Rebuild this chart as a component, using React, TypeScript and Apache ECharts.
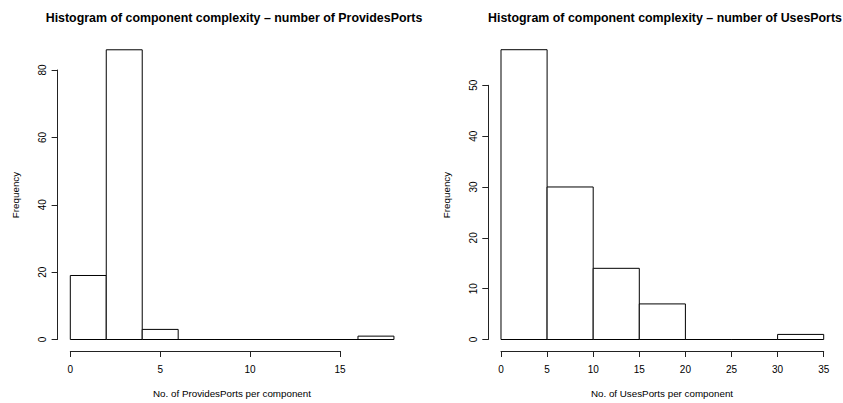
import React, { useEffect, useRef } from "react";
import * as echarts from "echarts";

const providesBreaks = [0, 2, 4, 6, 8, 10, 12, 14, 16, 18];
const providesCounts = [19, 86, 3, 0, 0, 0, 0, 0, 1];
const usesBreaks = [0, 5, 10, 15, 20, 25, 30, 35];
const usesCounts = [57, 30, 14, 7, 0, 0, 1];

const providesTitle = "Histogram of component complexity \u2013 number of ProvidesPorts";
const usesTitle = "Histogram of component complexity \u2013 number of UsesPorts";
const providesXLabel = "No. of ProvidesPorts per component";
const usesXLabel = "No. of UsesPorts per component";
const yLabel = "Frequency";

const FONT = "'Liberation Sans', Arial, Helvetica, sans-serif";

function bins(breaks: number[], counts: number[]) {
  return counts.map((c, i) => [breaks[i], breaks[i + 1], c]);
}

const renderBar = (params: any, api: any) => {
  const x0 = api.value(0);
  const x1 = api.value(1);
  const y = api.value(2);
  const p0 = api.coord([x0, 0]);
  const p1 = api.coord([x1, y]);
  return {
    type: "rect",
    shape: { x: p0[0], y: p1[1], width: p1[0] - p0[0], height: p0[1] - p1[1] },
    style: { fill: "#ffffff", stroke: "#000000", lineWidth: 1 },
  };
};

function xAxisCfg(gridIndex: number, max: number, interval: number) {
  return {
    type: "value",
    gridIndex,
    min: 0,
    max,
    interval,
    offset: 11.5,
    axisLine: { show: true, onZero: false, lineStyle: { color: "#222", width: 1 } },
    axisTick: { show: true, inside: false, length: 6, lineStyle: { color: "#222" } },
    axisLabel: { fontFamily: FONT, fontSize: 10, color: "#000", margin: 13 },
    splitLine: { show: false },
  };
}

function yAxisCfg(gridIndex: number, max: number, interval: number) {
  return {
    type: "value",
    gridIndex,
    min: 0,
    max,
    interval,
    offset: 12.7,
    axisLine: { show: true, onZero: false, lineStyle: { color: "#222", width: 1 } },
    axisTick: { show: true, inside: false, length: 6, lineStyle: { color: "#222" } },
    axisLabel: { fontFamily: FONT, fontSize: 10, color: "#000", margin: 10, rotate: 90 },
    splitLine: { show: false },
  };
}

const labelStyle = (text: string) => ({
  text,
  fill: "#000",
  font: `9.8px ${FONT}`,
  textAlign: "center",
  textVerticalAlign: "middle",
});

export default function App() {
  const ref = useRef<HTMLDivElement>(null);
  useEffect(() => {
    if (!ref.current) return;
    const chart = echarts.init(ref.current, null, { renderer: "svg" });
    chart.setOption({
      animation: false,
      backgroundColor: "#ffffff",
      title: [
        {
          text: providesTitle,
          left: 229,
          top: 7,
          textAlign: "center",
          textStyle: { fontFamily: FONT, fontSize: 12.4, fontWeight: "bold", color: "#000" },
        },
        {
          text: usesTitle,
          left: 660,
          top: 7,
          textAlign: "center",
          textStyle: { fontFamily: FONT, fontSize: 12.4, fontWeight: "bold", color: "#000" },
        },
      ],
      graphic: [
        { type: "text", x: 232, y: 393, style: labelStyle(providesXLabel) },
        { type: "text", x: 662, y: 393, style: labelStyle(usesXLabel) },
        { type: "text", x: 15, y: 195, rotation: Math.PI / 2, style: labelStyle(yLabel) },
        { type: "text", x: 446, y: 195, rotation: Math.PI / 2, style: labelStyle(yLabel) },
      ],
      grid: [
        { left: 70.3, top: 70, width: 269.7, height: 269.5, containLabel: false },
        { left: 501, top: 85.3, width: 322.7, height: 254.2, containLabel: false },
      ],
      xAxis: [xAxisCfg(0, 15, 5), xAxisCfg(1, 35, 5)],
      yAxis: [yAxisCfg(0, 80, 20), yAxisCfg(1, 50, 10)],
      series: [
        {
          type: "custom",
          xAxisIndex: 0,
          yAxisIndex: 0,
          clip: false,
          renderItem: renderBar,
          encode: { x: [0, 1], y: 2 },
          data: bins(providesBreaks, providesCounts),
        },
        {
          type: "custom",
          xAxisIndex: 1,
          yAxisIndex: 1,
          clip: false,
          renderItem: renderBar,
          encode: { x: [0, 1], y: 2 },
          data: bins(usesBreaks, usesCounts),
        },
      ],
    });
    return () => chart.dispose();
  }, []);
  return (
    <div
      ref={ref}
      style={{ position: "fixed", left: 0, top: 0, width: 843, height: 403, background: "#fff" }}
    />
  );
}
